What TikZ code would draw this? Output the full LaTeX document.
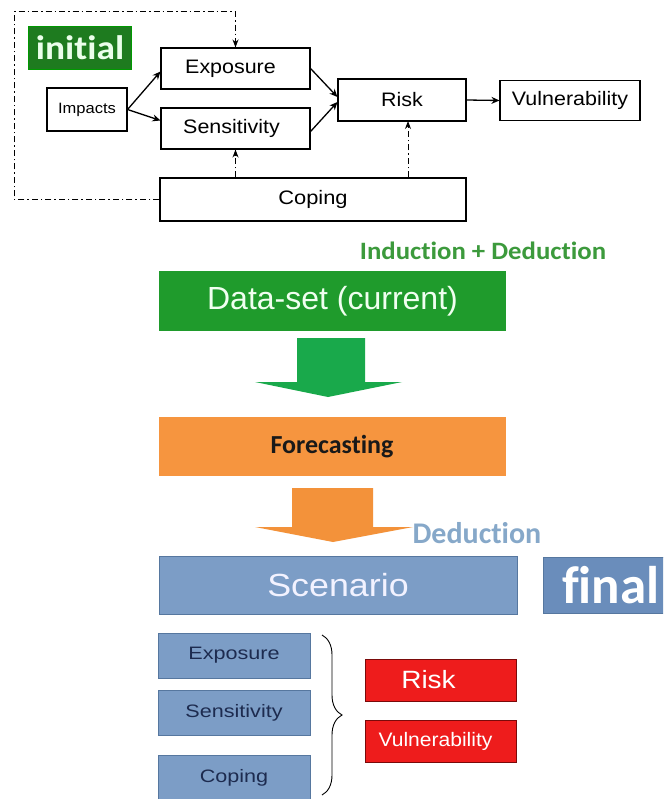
\documentclass[tikz,border=0pt]{standalone}
\usepackage{fontspec}
\usepackage{graphicx}
\setmainfont{Liberation Sans}
\newfontfamily\calib[Ligatures=NoCommon]{Carlito}
\usetikzlibrary{arrows.meta,calc,decorations.pathreplacing}

% horizontally widened text
\newcommand\hstretch[2]{\scalebox{#1}[1]{#2}}
\newcommand\fsz[1]{\fontsize{#1}{#1}\selectfont}

\definecolor{initgreen}{HTML}{1E7B1F}
\definecolor{datagreen}{HTML}{1F9B2C}
\definecolor{arrowgreen}{HTML}{19A94B}
\definecolor{labelgreen}{HTML}{3C9A3C}
\definecolor{forecastorange}{HTML}{F6953F}
\definecolor{arroworange}{HTML}{F3923A}
\definecolor{scenblue}{HTML}{7C9DC6}
\definecolor{scenedge}{HTML}{56779F}
\definecolor{finalblue}{HTML}{6A8DBB}
\definecolor{deducblue}{HTML}{86A8C9}
\definecolor{navytext}{HTML}{1D2B4F}
\definecolor{riskred}{HTML}{EE1C1C}
\definecolor{riskedge}{HTML}{7A0A0A}

\tikzset{
  topbox/.style={draw=black, line width=1.1pt, fill=white, inner sep=0pt,
    font=\fsz{19.5}},
  flow/.style={line width=1.3pt, -{Stealth[length=8pt,width=7pt]}},
  dashflow/.style={line width=1pt, dash pattern=on 6pt off 3pt on 1.5pt off 3pt,
    -{Stealth[length=8pt,width=6pt]}},
  bluebox/.style={fill=scenblue, draw=scenedge, line width=0.8pt, inner sep=0pt,
    text=navytext, font=\fsz{18}},
  redbox/.style={fill=riskred, draw=riskedge, line width=1pt, inner sep=0pt,
    text=white},
}

\begin{document}
\begin{tikzpicture}[x=1pt, y=-1pt]
\clip (0,0) rectangle (663,799);
\fill[white] (0,0) rectangle (663,799);

% ---- initial model ----
\node[fill=initgreen, draw=green!60!black, inner sep=0pt,
      minimum width=103pt, minimum height=43pt, text=green!8,
      font=\calib\bfseries\fsz{34}] (init) at (80,47.5) {\hstretch{1.1}{initial}};

\node[topbox, minimum width=80pt, minimum height=43pt, font=\fsz{15}]
  (imp) at (87,109.5) {\hstretch{1.1}{Impacts}};
\node[topbox, minimum width=149pt, minimum height=41pt]
  (exp) at (235.5,68.5) {\hstretch{1.1}{Exposure}\hspace*{10pt}};
\node[topbox, minimum width=149pt, minimum height=41pt]
  (sen) at (235.5,128.5) {\hstretch{1.1}{Sensitivity}\hspace*{8pt}};
\node[topbox, minimum width=128pt, minimum height=42pt]
  (risk) at (402,100) {\hstretch{1.1}{Risk}};
\node[topbox, minimum width=140pt, minimum height=40pt]
  (vul) at (570,100.5) {\hstretch{1.1}{Vulnerability}};
\node[topbox, minimum width=306pt, minimum height=43pt]
  (cop) at (313,199.5) {\hstretch{1.12}{Coping}};

\draw[flow] (imp.east) -- ($(exp.west)+(0,3)$);
\draw[flow] (imp.east) -- ($(sen.west)+(0,-8)$);
\draw[flow] (exp.east) -- ($(risk.west)+(0,-3)$);
\draw[flow] ($(sen.east)+(0,3)$) -- ($(risk.west)+(0,2)$);
\draw[flow] (risk.east) -- (vul.west);

\draw[dashflow] (cop.north -| sen.south) -- (sen.south);
\coordinate (riskfoot) at (408,121);
\draw[dashflow] (cop.north -| riskfoot) -- (riskfoot);
\coordinate (loopbl) at (14,199.5);
\coordinate (looptl) at (14,12);
\draw[dashflow] (cop.west) -- (loopbl) -- (looptl) -- (looptl -| exp.north) -- (exp.north);

% ---- scenario chain ----
\node[font=\calib\bfseries\fsz{25}, text=labelgreen] (indlbl) at (483,251)
  {\hstretch{1.07}{Induction + Deduction}};

\node[fill=datagreen, inner sep=0pt, minimum width=347pt, minimum height=60pt,
      text=green!6, font=\fsz{32}] (data) at (332.5,301) {Data-set (current)};

\fill[arrowgreen] (297,338) -- (365,338) -- (365,382) -- (402,382) -- (328,397)
  -- (255,382) -- (297,382) -- cycle;

\node[fill=forecastorange, inner sep=0pt, minimum width=347pt, minimum height=59pt,
      text=black!90, font=\calib\bfseries\fsz{26}] (fore) at (332,446.5) {Forecasting};

\fill[arroworange] (292,488) -- (373,488) -- (373,527) -- (413,527) -- (333,542)
  -- (255,527) -- (292,527) -- cycle;

\node[font=\calib\bfseries\fsz{30}, text=deducblue, anchor=west] (deduc) at (409,533)
  {Deduction};

\node[fill=scenblue, draw=scenedge, line width=0.8pt, inner sep=0pt,
      minimum width=358pt, minimum height=58pt, text=white!95!blue,
      font=\fsz{32}] (scen) at (338,585) {\hstretch{1.12}{Scenario}};

\node[fill=finalblue, draw=scenedge, inner sep=0pt, minimum height=56pt,
      text=white, font=\calib\bfseries\fsz{53}, anchor=west]
  (final) at (543,585) {\hspace*{19pt}final\hspace*{30pt}};

% ---- scenario components ----
\node[bluebox, minimum width=152pt, minimum height=45pt] (bexp) at (234,655.5)
  {\hstretch{1.2}{Exposure}};
\node[bluebox, minimum width=152pt, minimum height=45pt] (bsen) at (234,712.5)
  {\hstretch{1.2}{Sensitivity}};
\node[bluebox, minimum width=152pt, minimum height=45pt] (bcop) at (234,777.5)
  {\hstretch{1.2}{Coping}};

\coordinate (bracetop) at (322,635);
\coordinate (bracebot) at (322,795);
\draw[line width=0.9pt, decorate, decoration={brace, amplitude=20pt}]
  (bracetop) -- (bracebot);

\node[redbox, minimum width=151pt, minimum height=42pt, font=\fsz{25}]
  (rrisk) at (440.5,680) {\hstretch{1.12}{Risk}\hspace*{24pt}};
\node[redbox, minimum width=151pt, minimum height=42pt, font=\fsz{19.5}]
  (rvul) at (440.5,741) {\hstretch{1.08}{Vulnerability}\hspace*{10pt}};
\end{tikzpicture}
\end{document}
